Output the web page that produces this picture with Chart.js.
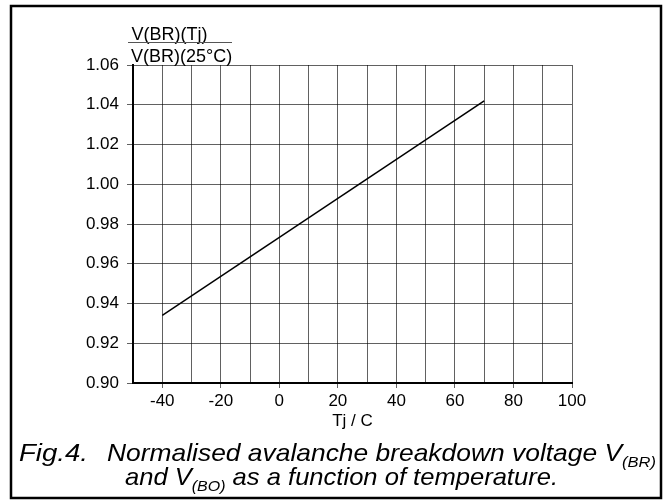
<!DOCTYPE html>
<html>
<head>
<meta charset="utf-8">
<script src="https://cdn.jsdelivr.net/npm/chart.js@4"></script>
<style>
  html, body { margin: 0; padding: 0; background: #fff; }
  #wrap { width: 665px; height: 500px; }
</style>
</head>
<body>
<div id="wrap"><canvas id="fig4" width="665" height="500"></canvas></div>
<script>
// values
const tempPoints = [-40, 70];
const ratioPoints = [0.934, 1.042];
const xGridTicks = [-50, -40, -30, -20, -10, 0, 10, 20, 30, 40, 50, 60, 70, 80, 90, 100];
const yTicks = [0.90, 0.92, 0.94, 0.96, 0.98, 1.00, 1.02, 1.04, 1.06];
const xLabelled = [-40, -20, 0, 20, 40, 60, 80, 100];
const xTitle = 'Tj / C';
const yLabelTop = 'V(BR)(Tj)';
const yLabelBottom = 'V(BR)(25°C)';

const FONT = '"Liberation Sans", Arial, sans-serif';
const GRID = 'rgba(0,0,0,0.62)';

function drawRuns(ctx, runs, x, baseline, targetWidth) {
  let total = 0;
  runs.forEach(r => {
    ctx.font = 'italic ' + r.size + 'px ' + FONT;
    r.w = ctx.measureText(r.t).width;
    total += r.w;
  });
  const sx = targetWidth / total;
  ctx.save();
  ctx.translate(x, baseline);
  ctx.scale(sx, 1);
  let cx = 0;
  runs.forEach(r => {
    ctx.font = 'italic ' + r.size + 'px ' + FONT;
    ctx.fillText(r.t, cx, r.dy || 0);
    cx += r.w;
  });
  ctx.restore();
}

const extras = {
  id: 'extras',
  afterDraw(chart) {
    const ctx = chart.ctx;
    ctx.save();
    // outer frame
    ctx.strokeStyle = '#000';
    ctx.lineWidth = 2.5;
    ctx.strokeRect(11, 6, 650, 492);

    // y label as a fraction
    ctx.fillStyle = '#000';
    ctx.textAlign = 'left';
    ctx.textBaseline = 'alphabetic';
    ctx.font = '18px ' + FONT;
    ctx.fillText(yLabelTop, 131.5, 40);
    ctx.fillText(yLabelBottom, 131, 61.5);
    ctx.strokeStyle = '#555';
    ctx.lineWidth = 1.2;
    ctx.beginPath();
    ctx.moveTo(128, 42.5);
    ctx.lineTo(232, 42.5);
    ctx.stroke();

    // caption
    drawRuns(ctx, [{t: 'Fig.4.', size: 24}], 19, 461, 69);
    drawRuns(ctx, [
      {t: 'Normalised avalanche breakdown voltage V', size: 24},
      {t: '(BR)', size: 15, dy: 5.5}
    ], 107, 461, 549);
    drawRuns(ctx, [
      {t: 'and V', size: 24},
      {t: '(BO)', size: 15, dy: 5.5},
      {t: ' as a function of temperature.', size: 24}
    ], 125, 485, 433);
    ctx.restore();
  }
};

const ctx = document.getElementById('fig4').getContext('2d');
const chart = new Chart(ctx, {
  type: 'line',
  data: {
    datasets: [{
      data: tempPoints.map((t, i) => ({x: t, y: ratioPoints[i]})),
      borderColor: '#000',
      borderWidth: 1.5,
      pointRadius: 0,
      fill: false,
      tension: 0
    }]
  },
  options: {
    responsive: false,
    animation: false,
    devicePixelRatio: 1,
    layout: { padding: { top: 65, right: 93, bottom: 68, left: 0 } },
    plugins: {
      legend: { display: false },
      tooltip: { enabled: false }
    },
    scales: {
      x: {
        type: 'linear',
        min: -50,
        max: 100,
        afterBuildTicks: scale => { scale.ticks = xGridTicks.map(v => ({value: v})); },
        afterFit: scale => { scale.height = 49; },
        ticks: {
          color: '#000',
          font: { family: FONT, size: 17 },
          padding: 3,
          maxRotation: 0,
          autoSkip: false,
          callback: v => xLabelled.includes(v) ? String(v) : ''
        },
        grid: {
          color: GRID,
          lineWidth: 1,
          tickLength: 5,
          tickColor: c => (c.tick && xLabelled.includes(c.tick.value)) ? GRID : 'rgba(0,0,0,0)'
        },
        border: { color: '#000', width: 2 },
        title: {
          display: true,
          text: xTitle,
          color: '#000',
          font: { family: FONT, size: 17 },
          padding: { top: 0, bottom: 0 }
        }
      },
      y: {
        type: 'linear',
        min: 0.9,
        max: 1.06,
        afterBuildTicks: scale => { scale.ticks = yTicks.map(v => ({value: v})); },
        afterFit: scale => { scale.width = 133; },
        ticks: {
          color: '#000',
          font: { family: FONT, size: 17 },
          padding: 8,
          autoSkip: false,
          callback: v => Number(v).toFixed(2)
        },
        grid: { color: GRID, lineWidth: 1, tickLength: 6, tickColor: GRID },
        border: { color: '#000', width: 2 }
      }
    }
  },
  plugins: [extras]
});
</script>
</body>
</html>
